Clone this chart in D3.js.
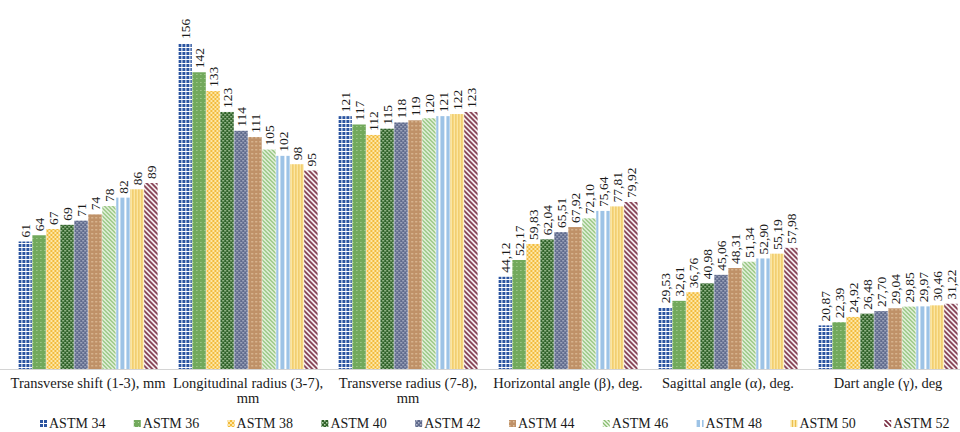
<!DOCTYPE html>
<html><head><meta charset="utf-8">
<script src="https://cdn.jsdelivr.net/npm/d3@7"></script>
<style>
html,body{margin:0;padding:0;background:#fff;}
svg{display:block;font-family:"Liberation Serif","Times New Roman",serif;}
</style></head>
<body>
<svg id="chart" width="960" height="432"></svg>
<script>
const categories = ["Transverse shift (1-3), mm","Longitudinal radius (3-7), mm","Transverse radius (7-8), mm","Horizontal angle (β), deg.","Sagittal angle (α), deg.","Dart angle (γ), deg"];
const seriesNames = ["ASTM 34","ASTM 36","ASTM 38","ASTM 40","ASTM 42","ASTM 44","ASTM 46","ASTM 48","ASTM 50","ASTM 52"];
const decimals = [0,0,0,2,2,2];
const transverseShift = [61,64,67,69,71,74,78,82,86,89];
const longitudinalRadius = [156,142,133,123,114,111,105,102,98,95];
const transverseRadius = [121,117,112,115,118,119,120,121,122,123];
const horizontalAngle = [44.12,52.17,59.83,62.04,65.51,67.92,72.10,75.64,77.81,79.92];
const sagittalAngle = [29.53,32.61,36.76,40.98,45.06,48.31,51.34,52.90,55.19,57.98];
const dartAngle = [20.87,22.39,24.92,26.48,27.70,29.04,29.85,29.97,30.46,31.22];
const groupValues = [transverseShift,longitudinalRadius,transverseRadius,horizontalAngle,sagittalAngle,dartAngle];

const svg = d3.select("#chart");
const defs = svg.append("defs");

function pat(id,w,h,draw){
  const p = defs.append("pattern").attr("id",id).attr("patternUnits","userSpaceOnUse").attr("width",w).attr("height",h);
  draw(p);
}
const patDefs = [
  p=>{p.append("rect").attr("width",4).attr("height",4).attr("fill","#fff");p.append("rect").attr("width",3).attr("height",3).attr("fill","#2b54a0");},
  p=>{p.append("rect").attr("width",4).attr("height",4).attr("fill","#72a95c");p.append("rect").attr("x",2).attr("y",2).attr("width",1).attr("height",1).attr("fill","#b4d6a2");},
  p=>{p.append("rect").attr("width",4).attr("height",4).attr("fill","#f2bb3c");p.append("rect").attr("width",2).attr("height",2).attr("fill","#fde7a8");p.append("rect").attr("x",2).attr("y",2).attr("width",2).attr("height",2).attr("fill","#fde7a8");},
  p=>{p.append("rect").attr("width",4).attr("height",4).attr("fill","#2f6129");p.append("rect").attr("x",0).attr("y",0).attr("width",1.5).attr("height",1.5).attr("fill","#b9d6ae");p.append("rect").attr("x",2).attr("y",2).attr("width",1.5).attr("height",1.5).attr("fill","#b9d6ae");},
  p=>{p.append("rect").attr("width",4).attr("height",4).attr("fill","#5f6a8c");p.append("rect").attr("x",0).attr("y",0).attr("width",1.5).attr("height",1.5).attr("fill","#b3b8cc");p.append("rect").attr("x",2).attr("y",2).attr("width",1.5).attr("height",1.5).attr("fill","#b3b8cc");},
  p=>{p.append("rect").attr("width",4).attr("height",4).attr("fill","#bf9168");p.append("rect").attr("x",1).attr("y",1).attr("width",1.5).attr("height",1.5).attr("fill","#e0c29e");},
  p=>{p.append("rect").attr("width",4).attr("height",4).attr("fill","#f2f8ec");p.append("path").attr("d","M0,0L4,4M-1,3L1,5M3,-1L5,1").attr("stroke","#86bd6e").attr("stroke-width",1.3);},
  p=>{p.append("rect").attr("width",6).attr("height",4).attr("fill","#fff");p.append("rect").attr("width",4).attr("height",4).attr("fill","#9dc3e6");},
  p=>{p.append("rect").attr("width",3).attr("height",4).attr("fill","#fbe6a2");p.append("rect").attr("width",1).attr("height",4).attr("fill","#ecbf4e");},
  p=>{p.append("rect").attr("width",5).attr("height",5).attr("fill","#fff");p.append("path").attr("d","M0,0L5,5M-1,4L1,6M4,-1L6,1").attr("stroke","#7b2f44").attr("stroke-width",1.8);}
];
const patW = [4,4,4,4,4,4,4,6,3,5], patH = [4,4,4,4,4,4,4,4,4,5];
seriesNames.forEach((s,i)=>pat("p"+i,patW[i],patH[i],patDefs[i]));

const x0 = d3.scaleBand().domain(categories).range([8,968]).paddingInner(0.13).paddingOuter(0.065);
const x1 = d3.scaleBand().domain(seriesNames).range([0,x0.bandwidth()]).paddingInner(0.04);
const y = d3.scaleLinear().domain([0,156]).range([369,43]);

svg.append("line").attr("x1",0).attr("x2",960).attr("y1",y(0)+0.5).attr("y2",y(0)+0.5).attr("stroke","#d4d4d4").attr("stroke-width",1);

const groups = svg.selectAll("g.grp").data(categories).join("g").attr("class","grp")
  .attr("transform",d=>`translate(${x0(d)},0)`);

groups.each(function(cat,gi){
  const g = d3.select(this);
  const vals = groupValues[gi];
  const data = seriesNames.map((s,i)=>({s,i,v:vals[i]}));
  g.selectAll("rect").data(data).join("rect")
    .attr("x",d=>x1(d.s)).attr("width",x1.bandwidth())
    .attr("y",d=>y(d.v)).attr("height",d=>y(0)-y(d.v))
    .attr("fill",d=>`url(#p${d.i})`);
  const fmt = v => decimals[gi] ? v.toFixed(decimals[gi]).replace(".",",") : String(v);
  g.selectAll("text").data(data).join("text")
    .attr("transform",d=>`translate(${x1(d.s)+x1.bandwidth()/2},${y(d.v)-4}) rotate(-90)`)
    .attr("dy","0.35em").attr("text-anchor","start")
    .attr("font-size",13.5).attr("fill","#1a1a1a")
    .text(d=>fmt(d.v));
});

categories.forEach(cat=>{
  const cx = x0(cat)+x0.bandwidth()/2;
  const t = svg.append("text").attr("x",cx).attr("y",388).attr("text-anchor","middle").attr("font-size",14.5).attr("fill","#1a1a1a");
  const words = cat.split(" ");
  let line = [], tspan = t.append("tspan").attr("x",cx).attr("dy",0);
  words.forEach(w=>{
    line.push(w);
    tspan.text(line.join(" "));
    if (tspan.node().getComputedTextLength() > x0.step()-2 && line.length>1){
      line.pop(); tspan.text(line.join(" "));
      line=[w];
      tspan = t.append("tspan").attr("x",cx).attr("dy",15).text(w);
    }
  });
});

const lg = svg.append("g");
seriesNames.forEach((s,i)=>{
  const lx = 40 + i*93.8;
  lg.append("rect").attr("x",lx).attr("y",420).attr("width",7).attr("height",7).attr("fill",`url(#p${i})`);
  lg.append("text").attr("x",lx+9).attr("y",428).attr("font-size",14).attr("fill","#1a1a1a").text(s);
});
</script>
</body></html>
